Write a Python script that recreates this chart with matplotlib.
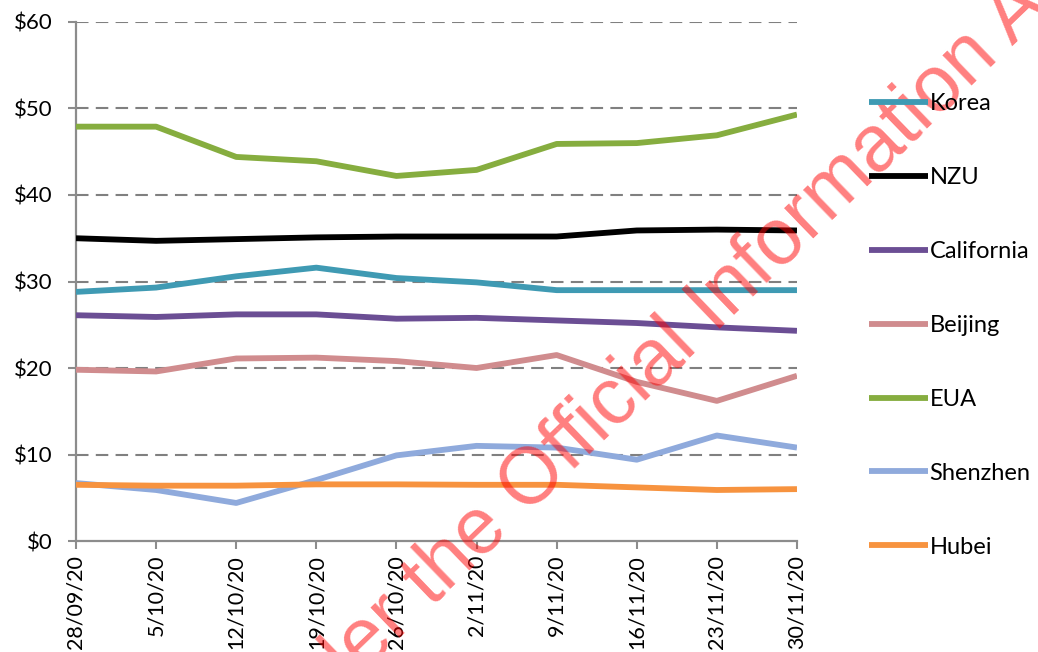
import matplotlib.pyplot as plt

# weekly carbon prices (NZD)
dates = ['28/09/20', '5/10/20', '12/10/20', '19/10/20', '26/10/20',
         '2/11/20', '9/11/20', '16/11/20', '23/11/20', '30/11/20']

korea = [28.8, 29.3, 30.6, 31.6, 30.4, 29.9, 29.0, 29.0, 29.0, 29.0]
nzu = [35.0, 34.7, 34.9, 35.1, 35.2, 35.2, 35.2, 35.9, 36.0, 35.9]
california = [26.1, 25.9, 26.2, 26.2, 25.7, 25.8, 25.5, 25.2, 24.7, 24.3]
beijing = [19.8, 19.6, 21.1, 21.2, 20.8, 20.0, 21.5, 18.4, 16.2, 19.1]
eua = [47.9, 47.9, 44.4, 43.9, 42.2, 42.9, 45.9, 46.0, 46.9, 49.3]
shenzhen = [6.7, 5.9, 4.4, 7.05, 9.9, 11.0, 10.8, 9.4, 12.2, 10.8]
hubei = [6.5, 6.4, 6.4, 6.55, 6.55, 6.5, 6.5, 6.2, 5.9, 6.0]

series = [
    ('Korea', korea, '#3f9ab3'),
    ('NZU', nzu, '#000000'),
    ('California', california, '#6b4e94'),
    ('Beijing', beijing, '#d08c8e'),
    ('EUA', eua, '#86ad3f'),
    ('Shenzhen', shenzhen, '#8faadc'),
    ('Hubei', hubei, '#f7933f'),
]

font = 'Lato'
fig = plt.figure(figsize=(10.38, 6.52), dpi=100)
ax = fig.add_axes([0.0732, 0.1702, 0.6946, 0.7961])

x = list(range(len(dates)))
for name, vals, col in series:
    ax.plot(x, vals, color=col, lw=4.2, label=name, solid_capstyle='butt')

ax.set_xlim(0, len(dates) - 1)
ax.set_ylim(0, 60)
ax.set_yticks(range(0, 61, 10))
ax.set_yticklabels([f'${v}' for v in range(0, 61, 10)], fontsize=16, family=font)
ax.set_xticks(x)
ax.set_xticklabels(dates, rotation=90, fontsize=15.5, family=font)

for v in range(10, 61, 10):
    ax.axhline(v, color='#808080', lw=1.5, ls=(0, (6, 3.5)), zorder=0)

for side in ['top', 'right']:
    ax.spines[side].set_visible(False)
for side in ['left', 'bottom']:
    ax.spines[side].set_color('#8c8c8c')
    ax.spines[side].set_linewidth(1.6)
ax.tick_params(length=6, width=1.5, color='#8c8c8c', pad=4)
ax.tick_params(axis='y', pad=11)
ax.spines['left'].set_zorder(0.5)

fig.legend(loc='upper left', bbox_to_anchor=(0.826, 0.875), frameon=False,
           handlelength=2.5, handletextpad=0.05, labelspacing=2.24,
           borderpad=0, prop={'family': font, 'size': 17})

# red watermark stamped across the page
fig.text(0.5202, 0.273, 'Released under the Official Information Act',
         color='red', alpha=0.5, fontsize=57, family='Liberation Sans',
         rotation=44, ha='center', va='center', rotation_mode='anchor')

fig.savefig('out.png', dpi=100)
